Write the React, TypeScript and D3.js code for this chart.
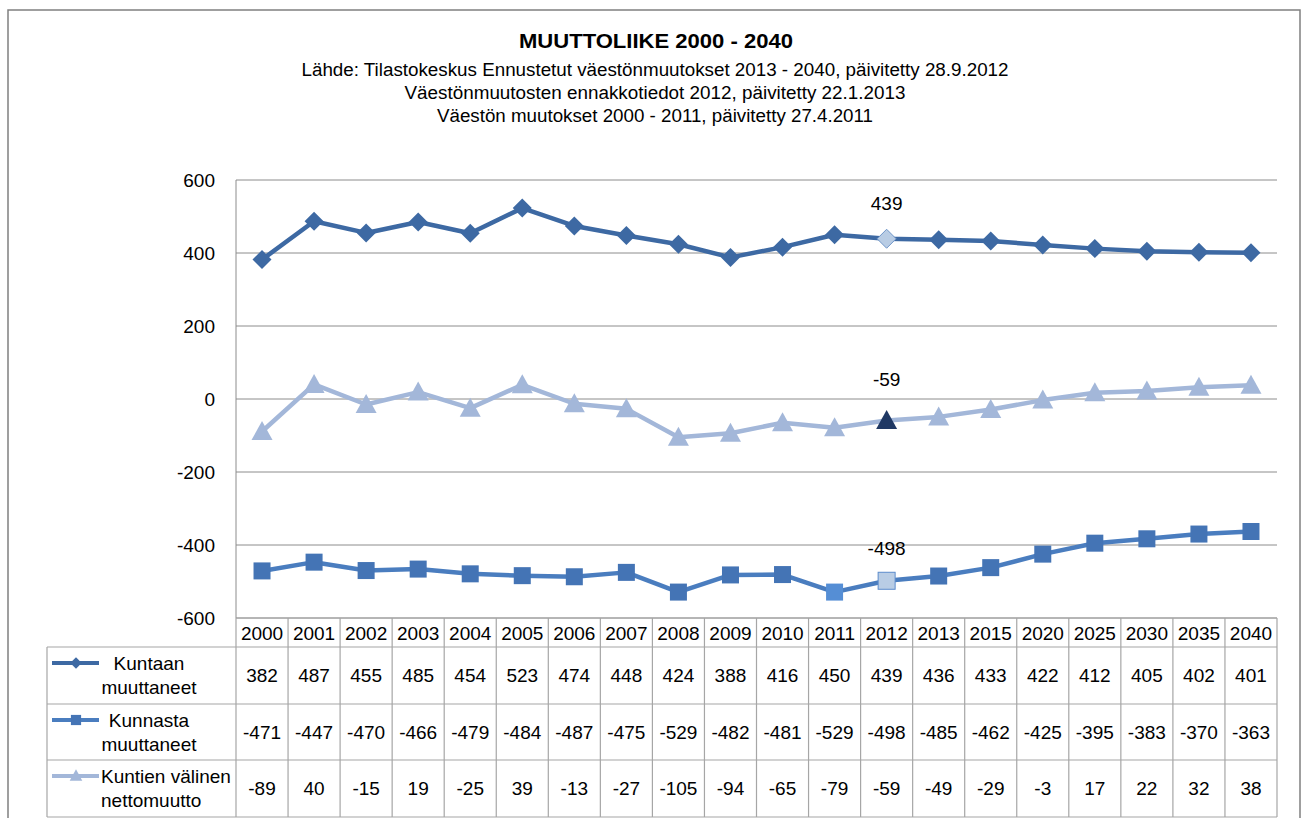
import React from "react";
import * as d3 from "d3";

const years = ["2000","2001","2002","2003","2004","2005","2006","2007","2008","2009","2010","2011","2012","2013","2015","2020","2025","2030","2035","2040"];
const kuntaan = [382,487,455,485,454,523,474,448,424,388,416,450,439,436,433,422,412,405,402,401];
const kunnasta = [-471,-447,-470,-466,-479,-484,-487,-475,-529,-482,-481,-529,-498,-485,-462,-425,-395,-383,-370,-363];
const netto = [-89,40,-15,19,-25,39,-13,-27,-105,-94,-65,-79,-59,-49,-29,-3,17,22,32,38];
const yTicks = [-600,-400,-200,0,200,400,600];
const title = "MUUTTOLIIKE 2000 - 2040";
const subtitles = [
  "Lähde: Tilastokeskus Ennustetut väestönmuutokset 2013 - 2040, päivitetty 28.9.2012",
  "Väestönmuutosten ennakkotiedot 2012, päivitetty 22.1.2013",
  "Väestön muutokset 2000 - 2011, päivitetty 27.4.2011",
];
const seriesNames = [["Kuntaan", "muuttaneet"], ["Kunnasta", "muuttaneet"], ["Kuntien välinen", "nettomuutto"]];
const labelIndex = 12;

const FONT = "'Liberation Sans', Arial, sans-serif";

type Series = { values: number[]; color: string; marker: string; markerFill: string };

export default function App() {
  const left = 236, right = 1277, top = 180, bottom = 618;
  const x = d3.scaleBand<string>().domain(years).range([left, right]);
  const y = d3.scaleLinear().domain([-600, 600]).range([bottom, top]);
  const cx = (i: number) => (x(years[i]) as number) + x.bandwidth() / 2;

  const series: Series[] = [
    { values: kuntaan, color: "#3D69A3", marker: "diamond", markerFill: "#3D69A3" },
    { values: kunnasta, color: "#4A7DBF", marker: "square", markerFill: "#4474B5" },
    { values: netto, color: "#A3B7D9", marker: "triangle", markerFill: "#A3B7D9" },
  ];

  const line = d3.line<number>().x((_, i) => cx(i)).y((d) => y(d));

  const drawMarker = (kind: string, px: number, py: number, fill: string, stroke: string | null, s: number, key?: string) => {
    if (kind === "diamond") {
      const h = 9.5 * s;
      return <path key={key} d={`M${px},${py - h}L${px + h},${py}L${px},${py + h}L${px - h},${py}Z`} fill={fill} stroke={stroke || "none"} strokeWidth={1} />;
    }
    if (kind === "square") {
      const h = 8.5 * s;
      return <rect key={key} x={px - h} y={py - h} width={2 * h} height={2 * h} fill={fill} stroke={stroke || "none"} strokeWidth={1} />;
    }
    const w = 10.5 * s, hh = 9.5 * s;
    return <path key={key} d={`M${px},${py - hh - 1}L${px + w},${py + hh - 1}L${px - w},${py + hh - 1}Z`} fill={fill} stroke={stroke || "none"} strokeWidth={1} />;
  };

  const markerStyle = (si: number, i: number): [string, string | null] => {
    if (si === 0 && i === 12) return ["#B8CCE4", "#6F95C8"];
    if (si === 1 && i === 12) return ["#B9CDE5", "#5B8BCB"];
    if (si === 1 && i === 11) return ["#558ED5", null];
    if (si === 2 && i === 12) return ["#1F3864", null];
    return [series[si].markerFill, null];
  };

  const rowTops = [647, 704, 760];
  const tableBottom = 817;
  const gridColor = "#8C8C8C";
  const tableColor = "#A6A6A6";
  const FS = 19;

  return (
    <svg width={1302} height={818} style={{ position: "absolute", left: 0, top: 0, background: "#fff" }} fontFamily={FONT}>
      <rect x={0} y={0} width={1302} height={818} fill="#fff" />
      <path d="M8,830V10H1300V830" fill="none" stroke="#808080" strokeWidth={1.5} />

      <text x={656} y={48} textAnchor="middle" fontSize={21} fontWeight="bold" textLength={274} lengthAdjust="spacingAndGlyphs">{title}</text>
      {subtitles.map((s, i) => (
        <text key={i} x={655} y={76 + i * 23} textAnchor="middle" fontSize={18}
          textLength={[707, 501, 436][i]} lengthAdjust="spacingAndGlyphs">{s}</text>
      ))}

      {yTicks.map((t) => (
        <g key={t}>
          <line x1={left} x2={right} y1={y(t)} y2={y(t)} stroke={gridColor} strokeWidth={1} />
          <text x={215} y={y(t) + 7} textAnchor="end" fontSize={FS} fill="#000">{t}</text>
        </g>
      ))}
      <line x1={left} x2={left} y1={top} y2={bottom} stroke={gridColor} strokeWidth={1} />

      {series.map((s, si) => (
        <path key={si} d={line(s.values) || ""} fill="none" stroke={s.color} strokeWidth={4.5} strokeLinejoin="round" />
      ))}
      {series.map((s, si) => (
        <g key={"m" + si}>
          {s.values.map((v, i) => {
            const [f, st] = markerStyle(si, i);
            return drawMarker(s.marker, cx(i), y(v), f, st, 1, `${si}-${i}`);
          })}
        </g>
      ))}

      {series.map((s, si) => (
        <text key={"l" + si} x={cx(labelIndex)} y={y(s.values[labelIndex]) - [29, 26, 35][si]} textAnchor="middle" fontSize={FS} fill="#000">
          {s.values[labelIndex]}
        </text>
      ))}

      <g stroke={tableColor} strokeWidth={1.2} fill="none">
        <line x1={left} x2={right} y1={bottom} y2={bottom} />
        <line x1={47} x2={right} y1={rowTops[0]} y2={rowTops[0]} />
        <line x1={47} x2={right} y1={rowTops[1]} y2={rowTops[1]} />
        <line x1={47} x2={right} y1={rowTops[2]} y2={rowTops[2]} />
        <line x1={47} x2={right} y1={tableBottom} y2={tableBottom} />
        <line x1={47} x2={47} y1={rowTops[0]} y2={tableBottom} />
        {years.map((yr) => (
          <line key={yr} x1={x(yr) as number} x2={x(yr) as number} y1={bottom} y2={tableBottom} />
        ))}
        <line x1={right} x2={right} y1={bottom} y2={tableBottom} />
      </g>
      {years.map((yr, i) => (
        <text key={"h" + yr} x={cx(i)} y={640} textAnchor="middle" fontSize={FS} fill="#000">{yr}</text>
      ))}
      {series.map((s, si) => (
        <g key={"r" + si}>
          {s.values.map((v, i) => (
            <text key={i} x={cx(i)} y={rowTops[si] + 35} textAnchor="middle" fontSize={FS} fill="#000">{v}</text>
          ))}
          <line x1={52} x2={99} y1={rowTops[si] + 16} y2={rowTops[si] + 16} stroke={s.color} strokeWidth={4} />
          {drawMarker(s.marker, 76, rowTops[si] + 16, s.markerFill, null, 0.6)}
          {si < 2 ? (
            <>
              <text x={149} y={rowTops[si] + 23} textAnchor="middle" fontSize={FS} fill="#000">{seriesNames[si][0]}</text>
              <text x={149} y={rowTops[si] + 47} textAnchor="middle" fontSize={FS} fill="#000">{seriesNames[si][1]}</text>
            </>
          ) : (
            <>
              <text x={101} y={rowTops[si] + 23} textAnchor="start" fontSize={FS} fill="#000">{seriesNames[si][0]}</text>
              <text x={101} y={rowTops[si] + 47} textAnchor="start" fontSize={FS} fill="#000">{seriesNames[si][1]}</text>
            </>
          )}
        </g>
      ))}
    </svg>
  );
}
